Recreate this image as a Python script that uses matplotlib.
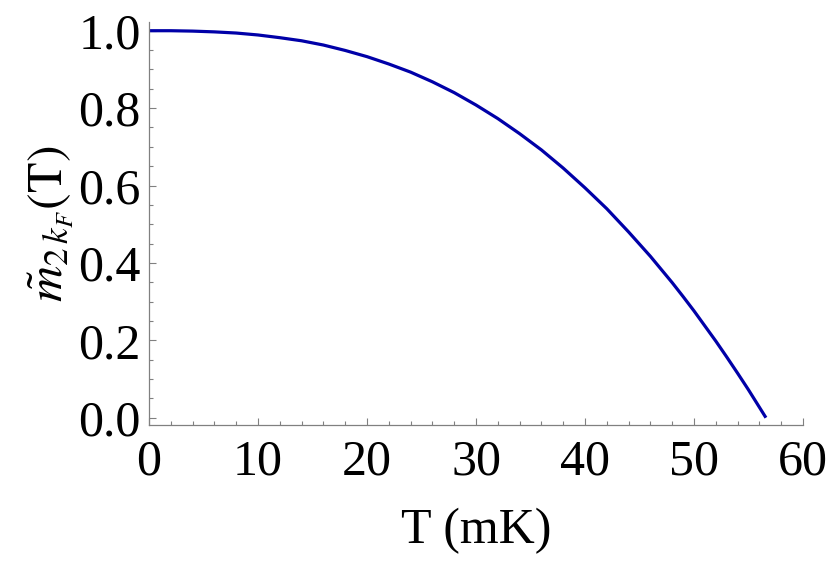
import numpy as np
import matplotlib
matplotlib.use('Agg')
import matplotlib.pyplot as plt
from matplotlib.ticker import MultipleLocator

# values
T_mK = [0, 2, 4, 6, 8, 10, 12, 14, 16, 18, 20, 22, 24, 26, 28, 30, 32, 34,
        36, 38, 40, 42, 44, 46, 48, 49, 50, 51, 52, 53, 54, 55, 56, 56.6]
m_2kF = [1.0, 1.0, 0.999, 0.997, 0.994, 0.989, 0.982, 0.974, 0.963, 0.949,
         0.933, 0.914, 0.893, 0.868, 0.840, 0.808, 0.773, 0.734, 0.692, 0.645,
         0.594, 0.540, 0.480, 0.417, 0.349, 0.313, 0.276, 0.237, 0.198, 0.157,
         0.115, 0.072, 0.027, 0.0]

x_ticks = [0, 10, 20, 30, 40, 50, 60]
y_ticks = [0.0, 0.2, 0.4, 0.6, 0.8, 1.0]

plt.rcParams['font.family'] = ['Liberation Serif', 'DejaVu Serif']
plt.rcParams['mathtext.fontset'] = 'stix'

fig = plt.figure(figsize=(8.3, 5.64), dpi=100)
ax = fig.add_axes([149/830, 1 - 425.3/564, (803 - 149)/830, (425.3 - 21.7)/564])

ax.plot(T_mK, m_2kF, color='#0000a8', linewidth=2.3, solid_capstyle='butt',
        solid_joinstyle='round')

ax.set_xlim(0, 60)
ax.set_ylim(-0.0196, 1.0233)
ax.set_xticks(x_ticks)
ax.set_xticklabels([str(v) for v in x_ticks])
ax.set_yticks(y_ticks)
ax.set_yticklabels(['%.1f' % v for v in y_ticks])
ax.xaxis.set_minor_locator(MultipleLocator(2))
ax.yaxis.set_minor_locator(MultipleLocator(0.05))

for side in ['top', 'right']:
    ax.spines[side].set_visible(False)
for side in ['left', 'bottom']:
    ax.spines[side].set_color('#808080')
    ax.spines[side].set_linewidth(0.9)

ax.tick_params(which='both', direction='in', color='#808080', width=0.8, labelsize=36)
ax.tick_params(which='major', length=5)
ax.tick_params(which='minor', length=3)
ax.tick_params(axis='x', which='major', pad=10)
ax.tick_params(axis='y', which='major', pad=6)

ax.set_xlabel('T (mK)', fontsize=36, labelpad=16)
ax.set_ylabel(r'$\tilde{m}_{2\,k_F}(\mathrm{T})$', fontsize=36, labelpad=2)

fig.savefig('out.png', dpi=100)
